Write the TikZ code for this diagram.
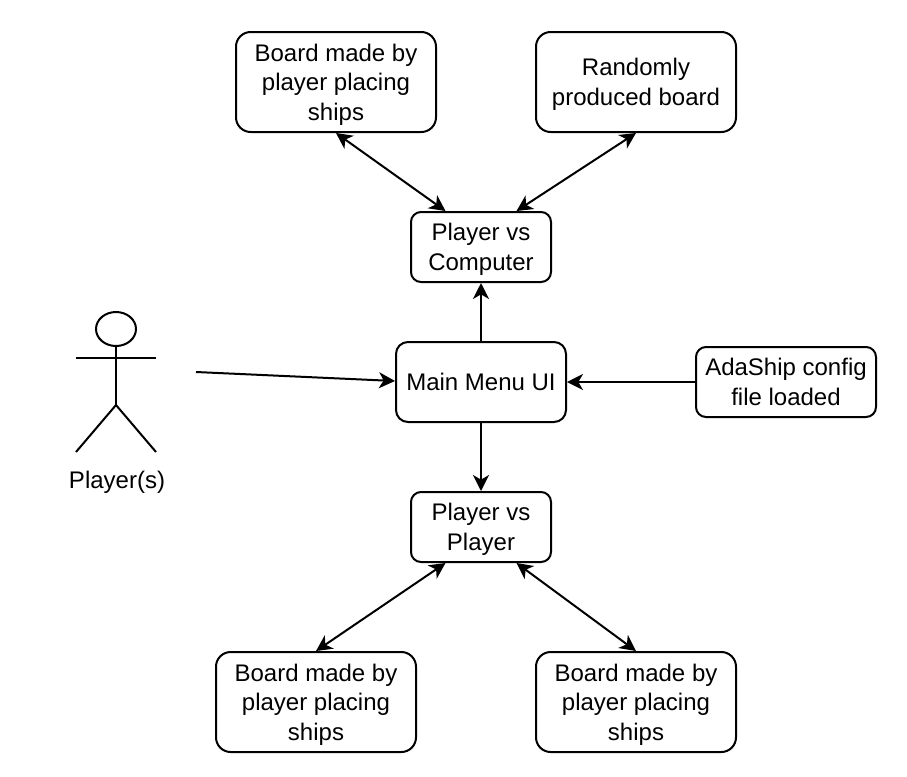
\documentclass[tikz,border=0pt]{standalone}
\usepackage{fontspec}
\setmainfont{Liberation Sans}
\usetikzlibrary{arrows.meta,calc,positioning}

\begin{document}
\begin{tikzpicture}[
  x=0.75pt, y=-0.75pt,
  font=\fontsize{18pt}{22.2pt}\selectfont,
  >={Stealth[length=12pt,width=12pt,inset=3.5pt]},
  box/.style={draw=black, line width=1.5pt, rounded corners=8pt, align=center, inner sep=0pt, text depth=-2pt},
  wide/.style={box, minimum width=150pt, minimum height=75pt, rounded corners=11pt},
  small/.style={box, minimum width=105pt, minimum height=52.5pt, rounded corners=7.5pt},
  link/.style={black, line width=1.5pt, ->},
  duplex/.style={black, line width=1.5pt, <->},
  figure/.style={black, line width=1.5pt}
]

\useasboundingbox (0,0) rectangle (907,776);
\fill[white] (0,0) rectangle (907,776);

% Boards at the top and bottom.
\node[wide] (boardtl) at (336,82) {Board made by\\player placing\\ships};
\node[wide] (boardtr) at (636,82) {Randomly\\produced board};
\node[wide] (boardbl) at (316,702) {Board made by\\player placing\\ships};
\node[wide] (boardbr) at (636,702) {Board made by\\player placing\\ships};

% Centre column.
\node[small] (vscomp) at (481,247) {Player vs\\Computer};
\node[box, minimum width=127.5pt, minimum height=60pt, rounded corners=9pt] (menu) at (481,382) {Main Menu UI};
\node[small] (vsplayer) at (481,527) {Player vs\\Player};
\node[small, minimum width=135pt] (config) at (786,382)
  {AdaShip config\\file loaded};

% Stick figure.
\draw[figure] (116,329) ellipse (20 and 17);
\draw[figure] (116,346) -- (116,405);
\draw[figure] (76,358) -- (156,358);
\draw[figure] (76,452) -- (116,405) -- (156,452);
\node (player) at (117,482) {Player(s)};
\coordinate (playerout) at (196,372);

% Connectors.
\draw[link] (playerout) -- ($(menu.west)+(0,-1)$);
\draw[link] (config.west) -- (menu.east);
\draw[link] (menu.north) -- (vscomp.south);
\draw[link] (menu.south) -- (vsplayer.north);
\draw[duplex] (boardtl.south) -- ($(vscomp.north west)!0.25!(vscomp.north east)$);
\draw[duplex] (boardtr.south) -- ($(vscomp.north west)!0.75!(vscomp.north east)$);
\draw[duplex] (boardbl.north) -- ($(vsplayer.south west)!0.25!(vsplayer.south east)$);
\draw[duplex] (boardbr.north) -- ($(vsplayer.south west)!0.75!(vsplayer.south east)$);

\end{tikzpicture}
\end{document}
